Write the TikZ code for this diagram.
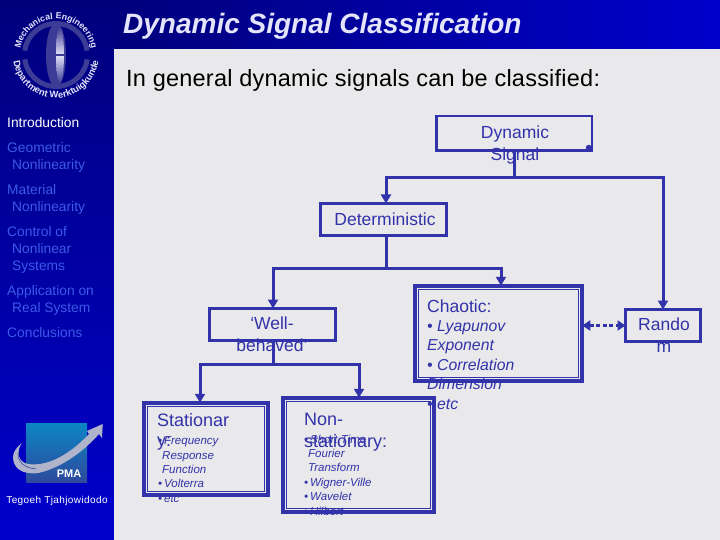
\documentclass[tikz,border=0pt]{standalone}
\usepackage{fontspec}
\setmainfont{Liberation Sans}
\usetikzlibrary{calc,arrows.meta,decorations.text}
\definecolor{navy}{HTML}{00007C}
\definecolor{royal}{HTML}{0000CC}
\definecolor{page}{HTML}{E9E9EB}
\definecolor{ink}{HTML}{3232AA}
\definecolor{menu}{HTML}{3C5AE6}
\definecolor{ringc}{HTML}{3C3C96}
\definecolor{pale}{HTML}{E4E4FA}
\definecolor{pmatop}{HTML}{0C86C4}
\definecolor{pmabot}{HTML}{2E4A9C}
\definecolor{swoosh}{HTML}{B0B4CA}
\newcommand{\fs}[2]{\fontsize{#1}{#2}\selectfont}
\tikzset{
  sbox/.style={draw=ink,line width=3pt,inner sep=0pt,outer sep=0pt,minimum width=#1},
  inset/.style={draw=ink,line width=0.8pt},
  flow/.style={-{Triangle[length=9pt,width=10pt]},ink,line width=3pt},
  stem/.style={ink,line width=3pt},
  link/.style={{Triangle[length=8pt,width=10pt]}-{Triangle[length=8pt,width=10pt]},ink,line width=3pt,dash pattern=on 4pt off 2.5pt},
  boxtxt/.style={text=ink,align=center,inner sep=0pt,font=\fs{17.5}{22}},
  listtxt/.style={text=ink,align=left,inner sep=0pt,anchor=north west},
  menutxt/.style={text=menu,align=left,inner sep=0pt,anchor=north west,font=\fs{13.8}{17}},
}
\begin{document}
\begin{tikzpicture}[x=1pt,y=-1pt]
\useasboundingbox (0,0) rectangle (720,540);
\shade[top color=navy,bottom color=royal] (0,0) rectangle (114,540);
\shade[left color=navy,right color=royal] (114,0) rectangle (720,49);
\fill[page] (114,49) rectangle (720,540);
\draw[ringc,line width=5pt] (56,55) ++(172:31.5) arc (172:8:31.5);
\draw[ringc,line width=5pt] (56,55) ++(-172:31.5) arc (-172:-8:31.5);
\fill[ringc] (56,55) ellipse (10 and 32);
\shade[top color=ringc,bottom color=ringc,middle color=pale] (60,55) ellipse (4 and 28);
\fill[ringc] (46,54) rectangle (66,56);
\path[decorate,decoration={text along path,text align=center,text={|\fs{8.8}{9}\bfseries\color{pale}|Mechanical Engineering}}]
  (56,55) ++(-175:36) arc (-175:-5:36);
\path[decorate,decoration={text along path,text align=center,text={|\fs{9.4}{10}\bfseries\color{pale}|Department Werktuigkunde}}]
  (56,55) ++(185:43) arc (185:-5:43);
\node[menutxt,text=white] (intro) at (7,117) {Introduction};
\node[menutxt] (geo)  at (7,142) {Geometric\\\hspace*{5pt}Nonlinearity};
\node[menutxt] (mat)  at (7,184) {Material\\\hspace*{5pt}Nonlinearity};
\node[menutxt] (ctrl) at (7,226) {Control of\\\hspace*{5pt}Nonlinear\\\hspace*{5pt}Systems};
\node[menutxt] (app)  at (7,285) {Application on\\\hspace*{5pt}Real System};
\node[menutxt] (conc) at (7,327) {Conclusions};
\shade[top color=pmatop,bottom color=pmabot] (26,423) rectangle (87,482);
\fill[swoosh] (21.7,443) .. controls (16,452) and (18,462) .. (28,464) .. controls (50,467) and (72,452) .. (89,434)
  -- (87,431) -- (102.7,424) -- (102,438) -- (99,434) .. controls (85,450) and (62,468) .. (38,473)
  .. controls (22,475) and (13,468) .. (13,457) .. controls (13,452) and (17,447) .. (21.7,443);
\draw[pmabot,line width=0.6pt] (18,453) .. controls (18,462) and (24,468) .. (36,469);
\node[font=\fs{11}{12}\bfseries,text=white,inner sep=0pt] (pma) at (69,474) {PMA};
\node[font=\fs{10}{12}\addfontfeature{LetterSpace=4},text=white,inner sep=0pt] (author) at (57,501) {Tegoeh Tjahjowidodo};
\node[anchor=west,inner sep=0pt,text=pale,font=\fs{28}{30}\bfseries\itshape] (title) at (123,26) {Dynamic Signal Classification};
\node[anchor=west,inner sep=0pt,font=\fs{23.5}{26}\addfontfeature{LetterSpace=1}] (intro2) at (126,80) {In general dynamic signals can be classified:};
\node[sbox=155.5pt,minimum height=34.5pt,line width=2.5pt] (dyn) at (514,133.5) {};
\node[sbox=126pt,minimum height=32pt] (det) at (383.5,219.5) {};
\node[sbox=126pt,minimum height=32pt] (well) at (272.5,324.5) {};
\node[sbox=167.5pt,minimum height=95.5pt,line width=4pt] (chaos) at (498.5,333.5) {};
\node[sbox=75pt,minimum height=32pt] (rand) at (663,325.5) {};
\node[listtxt,font=\fs{11.5}{14.4}\itshape] (statl) at (158,436.5) {•\,Frequency\\\hspace*{4pt}Response\\\hspace*{4pt}Function\\•\,Volterra\\•\,etc};
\node[listtxt,font=\fs{11.5}{14.4}\itshape] (nonl) at (304,434.5) {•\,Short Time\\\hspace*{4pt}Fourier\\\hspace*{4pt}Transform\\•\,Wigner-Ville\\•\,Wavelet\\•\,Hilbert};
\node[sbox=123.5pt,minimum height=92.5pt,line width=4pt] (stat) at (206,449) {};
\node[sbox=151.5pt,minimum height=114.5pt,line width=4pt] (non) at (358.5,455) {};
\fill[ink] ([shift={(-3,-3)}]dyn.south east) circle (3);
\draw[inset] ([shift={(3.4,3.4)}]chaos.north west) rectangle ([shift={(-3.4,-3.4)}]chaos.south east);
\draw[inset] ([shift={(3.4,3.4)}]stat.north west) rectangle ([shift={(-3.4,-3.4)}]stat.south east);
\draw[inset] ([shift={(3.4,3.4)}]non.north west) rectangle ([shift={(-3.4,-3.4)}]non.south east);
\node[boxtxt] (dynt) at (515,145) {Dynamic\\Signal};
\node[boxtxt] (dett) at (385,219) {Deterministic};
\node[boxtxt] (wellt) at (272,334) {‘Well-\\behaved’};
\node[boxtxt] (randt) at (664,335) {Rando\\m};
\node[listtxt,font=\fs{17.5}{22}] (chaost) at (427,300) {Chaotic:};
\node[listtxt,font=\fs{15.8}{19.5}\itshape] (chaosl) at (427,320) {• Lyapunov\\Exponent\\• Correlation\\Dimension\\• etc};
\node[listtxt,font=\fs{18}{20}] (statt) at (157,413) {Stationar\\y:};
\node[listtxt,font=\fs{18}{22}] (nont) at (304,413) {Non-\\stationary:};
\coordinate (dynj) at ($(dyn.south)+(0,27)$);
\coordinate (detj) at ($(det.south)+(2.5,32.5)$);
\coordinate (wellj) at ($(well.south)+(0.5,23.5)$);
\draw[stem] (dyn.south) -- (dynj);
\draw[flow] (dynj) -| ([xshift=2.5pt]det.north);
\draw[flow] (dynj) -| (rand.north);
\draw[stem] ([xshift=2.5pt]det.south) -- (detj);
\draw[flow] (detj) -| ([xshift=0.5pt]well.north);
\draw[flow] (detj) -| ([xshift=2.5pt]chaos.north);
\draw[stem] ([xshift=0.5pt]well.south) -- (wellj);
\draw[flow] (wellj) -| ([xshift=-6pt]stat.north);
\draw[flow] (wellj) -| ([xshift=0.5pt]non.north);
\draw[link] (chaos.east |- rand.west) -- (rand.west);
\end{tikzpicture}
\end{document}
